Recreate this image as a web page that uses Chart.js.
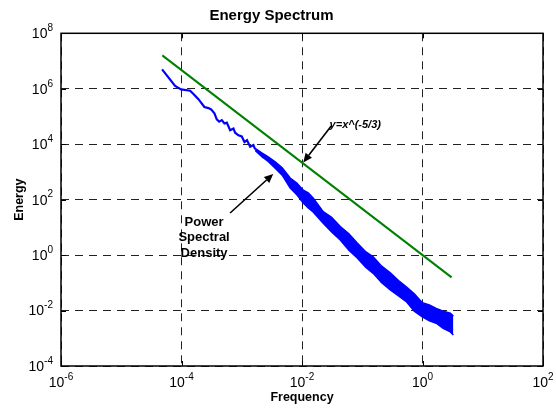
<!DOCTYPE html>
<html>
<head>
<meta charset="utf-8">
<title>Energy Spectrum</title>
<script src="https://cdn.jsdelivr.net/npm/chart.js@4.4.0/dist/chart.umd.min.js"></script>
<style>
  html, body { margin: 0; padding: 0; background: #fff; }
  #wrap { width: 556px; height: 408px; }
</style>
</head>
<body>
<div id="wrap"><canvas id="chartEspectro" width="556" height="408"></canvas></div>
<script>
// Dados (valores aproximados)
const xTicks = [1e-6, 1e-4, 1e-2, 1e0, 1e2];
const yTicks = [1e-4, 1e-2, 1e0, 1e2, 1e4, 1e6, 1e8];

// trecho inicial da densidade espectral (linha fina)
const psdFreq = [4.76e-5, 7.83e-5, 9.84e-5, 1.39e-4, 1.58e-4, 1.91e-4, 2.40e-4, 2.80e-4, 3.10e-4,
  3.52e-4, 3.85e-4, 4.22e-4, 4.67e-4, 5.16e-4, 5.65e-4, 6.41e-4, 7.28e-4, 7.76e-4, 8.81e-4,
  1.00e-3, 1.11e-3, 1.22e-3, 1.38e-3, 1.56e-3, 1.67e-3];
const psdEnergy = [5.0e6, 1.26e6, 9.5e5, 8.5e5, 6.5e5, 4.2e5, 2.2e5, 2.0e5, 1.8e5,
  1.3e5, 7.9e4, 6.5e4, 7.4e4, 5.6e4, 6.0e4, 3.2e4, 3.7e4, 2.6e4, 2.1e4,
  1.9e4, 1.2e4, 1.4e4, 8.1e3, 9.3e3, 6.5e3];

// trecho ruidoso: envoltórias superior e inferior da faixa azul
const bandFreq = [1.67e-3, 2.18e-3, 2.75e-3, 3.59e-3, 4.69e-3, 6.37e-3, 8.2e-3, 1.05e-2, 1.27e-2,
  1.53e-2, 2.25e-2, 3.1e-2, 4.32e-2, 6.0e-2, 8.26e-2, 1.15e-1, 1.52e-1, 2.1e-1, 2.92e-1,
  4.0e-1, 5.38e-1, 7.3e-1, 0.993, 1.3, 1.69, 2.2, 2.90, 3.25];
const bandUpper = [7.0e3, 4.8e3, 3.5e3, 2.3e3, 1.4e3, 6.0e2, 4.0e2, 2.2e2, 1.75e2,
  1.15e2, 3.7e1, 2.3e1, 1.07e1, 5.9, 2.75, 1.3, 0.87, 0.40, 0.23,
  0.12, 0.072, 0.040, 0.019, 0.016, 0.012, 0.0095, 0.0081, 0.0063];
const bandLower = [5.9e3, 3.5e3, 2.4e3, 1.35e3, 7.6e2, 2.6e2, 1.5e2, 7.6e1, 5.0e1,
  3.6e1, 1.4e1, 6.8, 3.5, 1.5, 0.79, 0.36, 0.22, 0.10, 0.055,
  0.034, 0.021, 0.0095, 0.0059, 0.0043, 0.0035, 0.0023, 0.0017, 0.0013];

// reta de referência y = x^(-5/3)
const refFreq = [4.8e-5, 3.04];
const refEnergy = [1.6e7, 0.157];

const FONT = '"Liberation Sans", Arial, Helvetica, sans-serif';
const AZUL = '#0000ff';
const VERDE = '#008000';

const toPoints = (xs, ys) => xs.map((x, i) => ({ x: x, y: ys[i] }));

// anotações (em coordenadas de dados)
const notas = [
  { linhas: ['y=x^(-5/3)'], font: 'italic bold 11px ' + FONT, texto: [0.0766, 4.9e4],
    de: [0.0305, 4.5e4], para: [0.0105, 2.2e3] },
  { linhas: ['Power', 'Spectral', 'Density'], font: 'bold 13px ' + FONT, texto: [2.37e-4, 4.26],
    de: [6.41e-4, 33], para: [3.33e-3, 843] }
];

function seta(ctx, x1, y1, x2, y2) {
  const ang = Math.atan2(y2 - y1, x2 - x1);
  const len = 9, meia = 4;
  const bx = x2 - len * Math.cos(ang), by = y2 - len * Math.sin(ang);
  ctx.beginPath();
  ctx.moveTo(x1, y1);
  ctx.lineTo(bx, by);
  ctx.stroke();
  ctx.beginPath();
  ctx.moveTo(x2, y2);
  ctx.lineTo(bx + meia * Math.sin(ang), by - meia * Math.cos(ang));
  ctx.lineTo(bx - meia * Math.sin(ang), by + meia * Math.cos(ang));
  ctx.closePath();
  ctx.fill();
}

function potencia(ctx, exp, xIni, yc) {
  ctx.font = '14px ' + FONT;
  ctx.fillText('10', xIni, yc);
  const w = ctx.measureText('10').width;
  ctx.font = '10px ' + FONT;
  ctx.fillText(exp, xIni + w, yc - 6);
}

function larguraPotencia(ctx, exp) {
  ctx.font = '14px ' + FONT;
  const w1 = ctx.measureText('10').width;
  ctx.font = '10px ' + FONT;
  return w1 + ctx.measureText(exp).width;
}

const decoracao = {
  id: 'decoracao',
  afterDraw(chart) {
    const { ctx, chartArea: a, scales: { x, y } } = chart;
    ctx.save();
    ctx.fillStyle = '#000';
    ctx.strokeStyle = '#000';

    // marcas internas dos eixos
    ctx.lineWidth = 1;
    ctx.beginPath();
    xTicks.forEach(v => {
      const px = Math.round(x.getPixelForValue(v)) + 0.5;
      ctx.moveTo(px, a.bottom); ctx.lineTo(px, a.bottom - 5);
      ctx.moveTo(px, a.top); ctx.lineTo(px, a.top + 5);
    });
    yTicks.forEach(v => {
      const py = Math.round(y.getPixelForValue(v)) + 0.5;
      ctx.moveTo(a.left, py); ctx.lineTo(a.left + 5, py);
      ctx.moveTo(a.right, py); ctx.lineTo(a.right - 5, py);
    });
    ctx.stroke();

    // moldura
    ctx.lineWidth = 1.5;
    ctx.strokeRect(a.left, a.top, a.right - a.left, a.bottom - a.top);

    // rótulos 10^n
    ctx.textBaseline = 'middle';
    ctx.textAlign = 'left';
    xTicks.forEach(v => {
      const exp = String(Math.round(Math.log10(v)));
      const w = larguraPotencia(ctx, exp);
      potencia(ctx, exp, x.getPixelForValue(v) - w / 2, a.bottom + 17);
    });
    yTicks.forEach(v => {
      const exp = String(Math.round(Math.log10(v)));
      const w = larguraPotencia(ctx, exp);
      potencia(ctx, exp, a.left - 8 - w, y.getPixelForValue(v) + 1);
    });

    // anotações com setas
    notas.forEach(n => {
      ctx.font = n.font;
      ctx.textAlign = 'center';
      const tx = x.getPixelForValue(n.texto[0]);
      const ty = y.getPixelForValue(n.texto[1]);
      const h = 15.7;
      n.linhas.forEach((t, i) => {
        ctx.fillText(t, tx, ty + (i - (n.linhas.length - 1) / 2) * h);
      });
      ctx.lineWidth = 1.6;
      seta(ctx,
        x.getPixelForValue(n.de[0]), y.getPixelForValue(n.de[1]),
        x.getPixelForValue(n.para[0]), y.getPixelForValue(n.para[1]));
    });
    ctx.restore();
  }
};

document.addEventListener('DOMContentLoaded', function() {
  const el = document.getElementById('chartEspectro');
  if (!el) {
    console.warn('[espectro] canvas não encontrado.');
    return;
  }
  new Chart(el, {
    type: 'line',
    data: {
      datasets: [
        { label: 'PSD', data: toPoints(psdFreq, psdEnergy), borderColor: AZUL, borderWidth: 2.2,
          pointRadius: 0, fill: false, tension: 0 },
        { label: 'PSD sup', data: toPoints(bandFreq, bandUpper), borderColor: AZUL, borderWidth: 1.5,
          backgroundColor: AZUL, pointRadius: 0, fill: '+1', tension: 0 },
        { label: 'PSD inf', data: toPoints(bandFreq, bandLower), borderColor: AZUL, borderWidth: 1.5,
          pointRadius: 0, fill: false, tension: 0 },
        { label: 'y=x^(-5/3)', data: toPoints(refFreq, refEnergy), borderColor: VERDE, borderWidth: 2,
          pointRadius: 0, fill: false, tension: 0 }
      ]
    },
    options: {
      responsive: false,
      animation: false,
      layout: { padding: { left: 0, right: 13, top: 0, bottom: 0 } },
      plugins: {
        legend: { display: false },
        tooltip: { enabled: false },
        title: {
          display: true, text: 'Energy Spectrum', color: '#000',
          font: { family: FONT, size: 15, weight: 'bold' },
          padding: { top: 6.5, bottom: 8.8 }
        }
      },
      scales: {
        x: {
          type: 'logarithmic', min: 1e-6, max: 1e2,
          afterBuildTicks: s => { s.ticks = xTicks.map(v => ({ value: v })); },
          afterFit: s => { s.height = 42; },
          ticks: { display: false },
          grid: { color: '#222', lineWidth: 1, drawTicks: false },
          border: { display: false, dash: [8, 6] },
          title: { display: true, text: 'Frequency', color: '#000',
            font: { family: FONT, size: 12.5, weight: 'bold' }, padding: { top: 0, bottom: 2.5 } }
        },
        y: {
          type: 'logarithmic', min: 1e-4, max: 1e8,
          afterBuildTicks: s => { s.ticks = yTicks.map(v => ({ value: v })); },
          afterFit: s => { s.width = 61; },
          ticks: { display: false },
          grid: { color: '#222', lineWidth: 1, drawTicks: false },
          border: { display: false, dash: [8, 6] },
          title: { display: true, text: 'Energy', color: '#000',
            font: { family: FONT, size: 12.5, weight: 'bold' }, padding: { top: 12.2, bottom: 0 } }
        }
      }
    },
    plugins: [decoracao]
  });
  console.log('[espectro] gráfico inicializado.');
});
</script>
</body>
</html>
